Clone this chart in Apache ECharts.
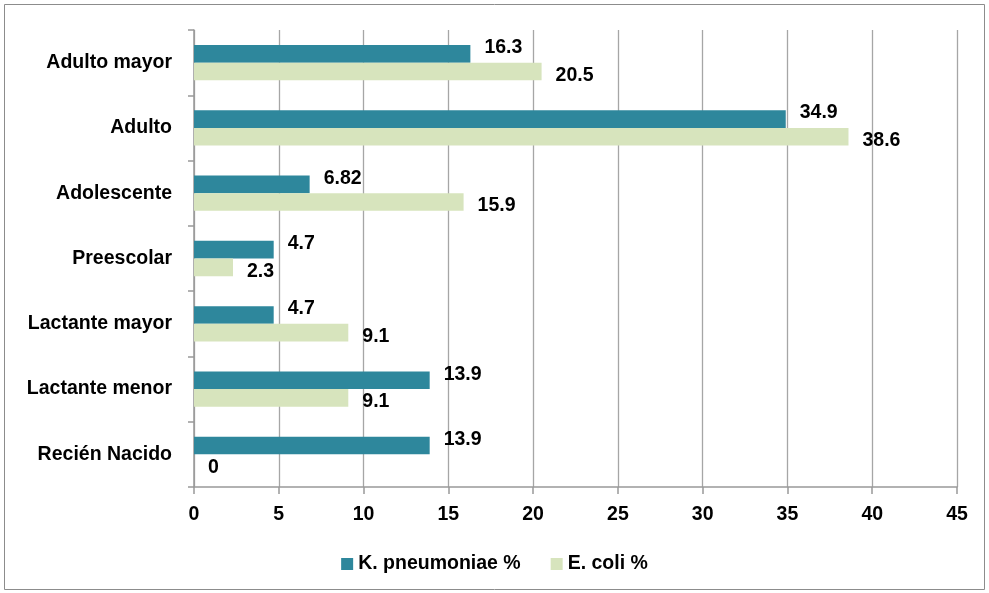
<!DOCTYPE html>
<html><head><meta charset="utf-8">
<script src="https://cdn.jsdelivr.net/npm/echarts@6/dist/echarts.min.js"></script>
<style>html,body{margin:0;padding:0;background:#fff}#c{width:989px;height:593px}</style>
</head><body><div id="c"></div>
<script>
const categories = ["Adulto mayor","Adulto","Adolescente","Preescolar","Lactante mayor","Lactante menor","Recién Nacido"];
const kPneumoniae = [16.3, 34.9, 6.82, 4.7, 4.7, 13.9, 13.9];
const eColi = [20.5, 38.6, 15.9, 2.3, 9.1, 9.1, 0];
const seriesNames = ["K. pneumoniae %", "E. coli %"];
const xTicks = {min: 0, max: 45, interval: 5};

const font = "Liberation Sans, Arial, sans-serif";
const fs = 19.5;
const chart = echarts.init(document.getElementById('c'), null, {renderer: 'canvas'});
chart.setOption({
  animation: false,
  backgroundColor: '#fff',
  graphic: [{type: 'rect', shape: {x: 4.5, y: 4.5, width: 980, height: 585}, style: {fill: 'none', stroke: '#8c8c8c', lineWidth: 1}, silent: true}],
  grid: {left: 194, right: 32, top: 30, bottom: 106, containLabel: false},
  legend: {
    bottom: 14, left: 'center', itemWidth: 12, itemHeight: 12, itemGap: 30,
    icon: 'rect',
    textStyle: {fontFamily: font, fontWeight: 'bold', fontSize: fs, color: '#000'},
    data: seriesNames
  },
  xAxis: {
    type: 'value', min: xTicks.min, max: xTicks.max, interval: xTicks.interval,
    axisLine: {show: true, lineStyle: {color: '#999', width: 1.5}},
    axisTick: {show: true, length: 7, lineStyle: {color: '#999', width: 1.5}},
    splitLine: {show: true, lineStyle: {color: '#a6a6a6', width: 1.3}},
    axisLabel: {margin: 18, fontFamily: font, fontWeight: 'bold', fontSize: fs, color: '#000'}
  },
  yAxis: {
    type: 'category', data: categories, inverse: true,
    axisLine: {show: true, lineStyle: {color: '#999', width: 1.5}},
    axisTick: {show: true, length: 6, lineStyle: {color: '#999', width: 1.5}},
    axisLabel: {margin: 22, fontFamily: font, fontWeight: 'bold', fontSize: fs, color: '#000'}
  },
  series: [
    {
      name: seriesNames[0], type: 'bar', data: kPneumoniae, barGap: '0%', barCategoryGap: '46%',
      itemStyle: {color: '#2E879C'},
      label: {show: true, position: 'right', distance: 14, offset: [0, -6], fontFamily: font, fontWeight: 'bold', fontSize: fs, color: '#000'}
    },
    {
      name: seriesNames[1], type: 'bar', data: eColi, barGap: '0%', barCategoryGap: '46%',
      itemStyle: {color: '#D7E4BD'},
      label: {show: true, position: 'right', distance: 14, offset: [0, 4], fontFamily: font, fontWeight: 'bold', fontSize: fs, color: '#000'}
    }
  ]
});
</script></body></html>
